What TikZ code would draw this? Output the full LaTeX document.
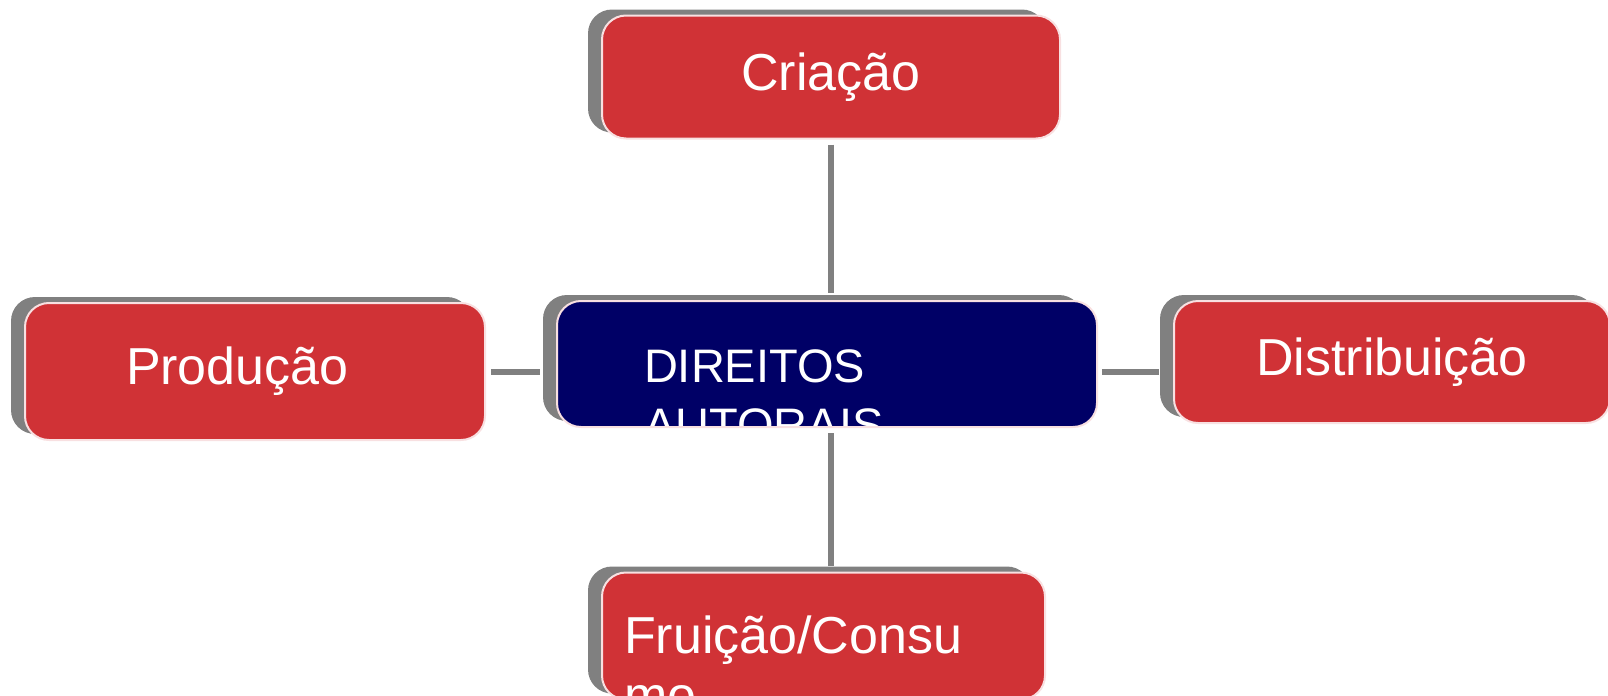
\documentclass[tikz,border=0pt]{standalone}
\usepackage{fontspec}
\setmainfont{Liberation Sans}
\usetikzlibrary{shadows}

\definecolor{boxred}{RGB}{208,50,54}
\definecolor{hubblue}{RGB}{0,0,102}
\definecolor{shadowgray}{RGB}{128,128,128}
\definecolor{linkgray}{RGB}{128,128,128}

\begin{document}
\begin{tikzpicture}[
            x = 0.5pt, y = -0.5pt, % one unit = one pixel of the slide
            link/.style = {draw = linkgray, line width = 3pt}, % connector style
            stage/.style = {
                rectangle,
                rounded corners = 12pt,
                fill = boxred,
                draw = white!85!boxred,
                line width = 1pt,
                text = white,
                font = \fontsize{26}{30}\selectfont,
                drop shadow = {shadow xshift = -7pt, shadow yshift = 3pt,
                    fill = shadowgray, opacity = 1}
            },
            cuttext/.style = {
                anchor = base west, % base of the last line
                align = left,
                text = white,
                inner sep = 0pt,
                minimum width = 0pt,
                minimum height = 0pt
            }
        ]

        \useasboundingbox (0,0) rectangle (1608,696);

        \node[stage, minimum width = 229pt, minimum height = 61.5pt] (crit) at (831,77) {Criação};
        \node[stage, text width = 129pt, inner xsep = 50.5pt, align = left,
            minimum height = 68.5pt] (prod) at (255,371.5) {Produção};
        \node[stage, minimum width = 218pt, minimum height = 61pt] (dist) at (1392,362) {Distribuição};

        % text runs past the box and is cut off
        \node[stage, fill = hubblue, minimum width = 270pt, minimum height = 63pt,
            path picture = {\node[cuttext, font = \fontsize{23.5}{29.5}\selectfont]
                at ([shift = {(43pt,-70pt)}]path picture bounding box.north west)
                {DIREITOS\\AUTORAIS};}] (hub) at (827,364) {};
        \node[stage, minimum width = 221.5pt, minimum height = 63.5pt,
            path picture = {\node[cuttext, font = \fontsize{26}{30}\selectfont]
                at ([shift = {(10.5pt,-70.5pt)}]path picture bounding box.north west)
                {Fruição/Consu\\mo};}] (fru) at (823.5,636) {};

        \draw[link, shorten < = 2.5pt, shorten > = 3.5pt] (crit.south) -- (crit.south |- hub.north);
        \draw[link, shorten < = 2.5pt, shorten > = 8pt] (prod.east) -- (prod.east -| hub.west);
        \draw[link, shorten < = 2pt, shorten > = 7pt] (prod.east -| hub.east) -- (prod.east -| dist.west);
        \draw[link, shorten < = 2.5pt, shorten > = 3pt] (crit.south |- hub.south) -- (crit.south |- fru.north);
    \end{tikzpicture}
\end{document}
